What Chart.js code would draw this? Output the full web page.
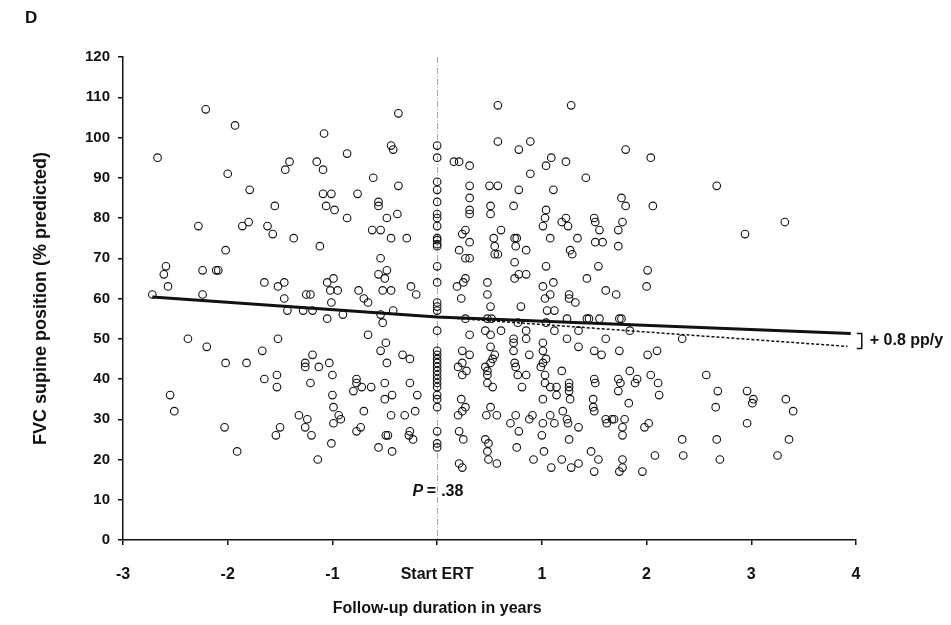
<!DOCTYPE html>
<html>
<head>
<meta charset="utf-8">
<script src="https://cdn.jsdelivr.net/npm/chart.js@4/dist/chart.umd.min.js"></script>
<style>
  html,body{margin:0;padding:0;background:#fff;}
  #wrap{width:951px;height:625px;}
</style>
</head>
<body>
<div id="wrap"><canvas id="fvc" width="951" height="625"></canvas></div>
<script>
// ------------------ DATA ------------------
// follow-up in years relative to start of ERT, FVC supine (% predicted)
const beforeErt = [
  [-2.21,107],[-1.93,103],[-2.67,95],[-2.00,91],[-1.79,87],[-1.55,83],[-2.28,78],[-1.86,78],[-1.80,79],[-1.62,78],[-1.57,76],
  [-0.37,106],[-1.08,101],[-0.44,98],[-0.42,97],[-0.86,96],[-1.41,94],[-1.45,92],[-1.15,94],[-1.09,92],[-0.61,90],[-0.37,88],
  [-1.09,86],[-1.01,86],[-0.76,86],[-1.06,83],[-0.98,82],[-0.56,84],[-0.56,83],[-0.86,80],[-0.48,80],[-0.38,81],[-0.62,77],
  [-0.54,77],[-1.37,75],[-0.44,75],[-0.29,75],
  [-2.02,72],[-2.59,68],[-2.61,66],[-2.24,67],[-2.11,67],[-2.09,67],[-2.57,63],[-1.65,64],[-1.52,63],[-2.72,61],[-2.24,61],
  [-2.38,50],[-2.20,48],[-1.52,50],[-1.67,47],[-2.02,44],[-1.82,44],[-1.65,40],[-1.53,41],[-1.53,38],
  [-1.12,73],[-0.54,70],[-0.56,66],[-0.48,67],[-0.50,65],[-0.99,65],[-1.05,64],[-1.46,64],[-1.25,61],[-1.21,61],[-1.02,62],
  [-0.95,62],[-0.75,62],[-0.52,62],[-0.44,62],[-0.25,63],[-0.20,61],[-1.46,60],[-0.70,60],[-0.66,59],[-1.01,59],[-1.43,57],
  [-1.28,57],[-1.19,57],[-1.05,55],[-0.90,56],[-0.54,56],[-0.52,54],[-0.42,57],[-0.66,51],[-0.49,49],[-0.54,47],[-1.19,46],
  [-1.26,44],[-1.26,43],[-1.13,43],[-1.03,44],[-0.33,46],[-0.26,45],[-0.48,44],[-1.00,41],[-1.21,39],[-0.77,40],[-0.77,39],
  [-0.72,38],[-0.63,38],[-0.50,39],[-0.26,39],
  [-2.55,36],[-2.51,32],[-2.03,28],[-1.91,22],[-1.32,31],[-1.24,30],[-1.26,28],[-1.20,26],[-1.50,28],[-1.54,26],[-1.14,20],
  [-1.01,24],[-1.00,36],[-0.99,33],[-0.94,31],[-0.92,30],[-0.99,29],[-0.80,37],[-0.70,32],[-0.77,27],[-0.73,28],[-0.56,23],
  [-0.50,35],[-0.43,36],[-0.49,26],[-0.47,26],[-0.43,22],[-0.44,31],[-0.31,31],[-0.21,32],[-0.19,36],[-0.26,27],[-0.27,26],
  [-0.23,25]
];
// measurements taken at start of ERT (x = 0)
const atStart = [98,95,89,87,84,81,80,78,75,74.5,73.5,73,68,64,59,58,57,52,47,46,45,44,43,42,41,40,39,38,36,35,33,27,24,23];

const afterErt = [
  [0.58,108],[1.28,108],[0.58,99],[0.89,99],[0.78,97],[0.16,94],[0.21,94],[0.31,93],[1.09,95],[1.04,93],[1.23,94],[0.89,91],
  [1.42,90],[0.31,88],[0.50,88],[0.58,88],[0.78,87],[1.11,87],[0.31,85],[0.51,83],[0.51,81],[0.31,82],[0.31,81],[0.73,83],
  [1.04,82],[1.03,80],[1.01,78],[1.19,79],[1.23,80],[1.25,78],[0.27,77],[0.24,76],[0.61,77],[0.54,75],[0.74,75],[0.76,75],
  [1.08,75],[1.34,75],[0.31,74],
  [1.80,97],[2.04,95],[2.67,88],[1.76,85],[1.80,83],[2.06,83],[1.50,80],[1.51,79],[1.77,79],[1.55,77],[1.73,77],[1.51,74],
  [1.58,74],[3.32,79],[2.94,76],
  [0.21,72],[0.27,70],[0.31,70],[0.55,73],[0.55,71],[0.58,71],[0.75,73],[0.74,69],[0.85,72],[1.27,72],[1.29,71],[1.04,68],
  [1.43,65],[0.78,66],[0.74,65],[0.85,66],[0.27,65],[0.25,64],[0.19,63],[0.48,64],[0.48,61],[0.23,60],[0.51,58],[0.80,58],
  [1.01,63],[1.11,64],[1.08,61],[1.03,60],[1.26,61],[1.26,60],[1.32,59],[1.05,57],[1.12,57],[0.27,55],[0.48,55],[0.52,55],
  [0.77,54],[1.04,54],[1.24,55],[1.43,55],[0.46,52],[0.51,51],[0.61,52],[0.85,52],[0.85,50],[1.12,52],[1.35,52],[0.31,51],
  [1.24,50],[0.73,50],[0.73,49],[0.73,47],[1.01,49],[1.01,47],[1.35,48],[0.51,48],[0.24,47],[0.31,46],[0.55,46],[0.53,45],
  [0.88,46],[1.04,45],[1.01,44],[0.20,43],[0.24,44],[0.28,42],[0.24,41],[0.46,43],[0.51,44],[0.48,42],[0.48,41],[0.74,44],
  [0.75,43],[0.77,41],[0.85,41],[0.99,43],[1.03,41],[1.19,42],[0.48,39],[0.53,38],[0.81,38],[1.03,39],[1.08,38],[1.14,38],
  [1.26,39],[1.26,38],
  [1.73,73],[1.54,68],[2.01,67],[2.00,63],[1.61,62],[1.71,61],[1.45,55],[1.55,55],[1.74,55],[1.76,55],[1.84,52],[1.61,50],
  [2.34,50],[1.50,47],[1.57,46],[1.74,47],[2.01,46],[2.10,47],[1.84,42],[1.50,40],[1.51,39],[1.73,40],[1.75,39],[1.91,40],
  [1.89,39],[2.04,41],[2.11,39],[2.57,41],[2.68,37],
  [0.23,35],[0.27,33],[0.20,31],[0.24,32],[0.21,27],[0.25,25],[0.21,19],[0.24,18],[0.51,33],[0.47,31],[0.57,31],[0.46,25],
  [0.49,24],[0.48,22],[0.49,20],[0.57,19],[0.75,31],[0.70,29],[0.78,27],[0.76,23],[0.92,20],[1.14,36],[1.01,35],[0.91,31],
  [0.88,30],[1.01,29],[1.08,31],[1.12,29],[1.00,26],[1.02,22],[1.20,32],[1.24,30],[1.25,29],[1.35,28],[1.26,37],[1.27,35],
  [1.26,25],[1.19,20],[1.09,18],[1.28,18],[1.35,19],[1.47,22],[1.54,20],[1.50,17],[1.49,35],[1.49,33],[1.50,32],[1.61,30],
  [1.62,29],[1.67,30],[1.69,30],[1.73,37],[1.83,34],[1.77,28],[1.77,26],[1.79,30],[1.77,20],[1.77,18],[1.74,17],[1.96,17],
  [2.12,36],[1.98,28],[2.02,29],[2.08,21],[2.34,25],[2.35,21],[2.66,33],[2.67,25],[2.70,20],[2.96,37],[3.02,35],[3.01,34],
  [2.96,29],[3.33,35],[3.40,32],[3.36,25],[3.25,21]
];

// fitted trend: solid = piecewise fit, dotted = pre-ERT slope continued
const fitX = [-2.72, 0, 3.95];
const fitY = [60.4, 55.4, 51.3];
const extrapX = [0, 3.92];
const extrapY = [55.4, 48.1];

const xTicks = [-3,-2,-1,0,1,2,3,4];
const xTickLabels = ["-3","-2","-1","Start ERT","1","2","3","4"];
const xTitle = "Follow-up duration in years";
const slopeLabel = "+ 0.8 pp/y";
const pLabel = ".38";

// ------------------ BUILD ------------------
const pts = beforeErt.map(p=>({x:p[0],y:p[1]}))
  .concat(atStart.map(v=>({x:0,y:v})))
  .concat(afterErt.map(p=>({x:p[0],y:p[1]})));
const fitLine = fitX.map((v,i)=>({x:v,y:fitY[i]}));
const extrapLine = extrapX.map((v,i)=>({x:v,y:extrapY[i]}));

const FONT = "'Liberation Sans', Arial, sans-serif";
const INK = "#111";

// vertical start line, bracket, P value, x title (centred on start) and panel letter
const extras = {
  id:"extras",
  beforeDatasetsDraw(chart){
    const {ctx, chartArea:a, scales:{x}} = chart;
    const px = Math.round(x.getPixelForValue(0))+0.5;
    ctx.save();
    ctx.strokeStyle = "#a8a8a8"; ctx.lineWidth = 1; ctx.setLineDash([6,2,1,2]);
    ctx.beginPath(); ctx.moveTo(px,a.top); ctx.lineTo(px,a.bottom); ctx.stroke();
    ctx.restore();
  },
  afterDraw(chart){
    const {ctx, scales:{x,y}} = chart;
    ctx.save();
    ctx.fillStyle = INK; ctx.strokeStyle = INK;
    // bracket between the two line ends
    const bx = x.getPixelForValue(fitX[2]) + 11;
    const y1 = y.getPixelForValue(fitY[2]), y2 = y.getPixelForValue(extrapY[1]) + 2;
    ctx.lineWidth = 1.5;
    ctx.beginPath(); ctx.moveTo(bx-5,y1); ctx.lineTo(bx,y1); ctx.lineTo(bx,y2); ctx.lineTo(bx-5,y2); ctx.stroke();
    ctx.font = "bold 16px "+FONT; ctx.textBaseline = "middle"; ctx.textAlign = "left";
    ctx.fillText(slopeLabel, bx+8, (y1+y2)/2);
    // P value under the start line
    const px = x.getPixelForValue(0), py = y.getPixelForValue(12);
    ctx.font = "italic bold 16px "+FONT; ctx.textAlign = "right";
    ctx.fillText("P", px-14, py);
    ctx.font = "bold 16px "+FONT;
    ctx.fillText("=", px-1, py);
    ctx.textAlign = "left";
    ctx.fillText(pLabel, px+4, py);
    // x axis title, centred under Start ERT
    ctx.textAlign = "center";
    ctx.fillText(xTitle, px, 609);
    // panel letter
    ctx.font = "bold 17px "+FONT; ctx.textAlign = "left";
    ctx.fillText("D", 25, 18);
    ctx.restore();
  }
};

// ------------------ CHART ------------------
new Chart(document.getElementById("fvc"), {
  type:"scatter",
  data:{ datasets:[
    { data:fitLine, showLine:true, borderColor:INK, borderWidth:3, pointRadius:0, order:0 },
    { data:extrapLine, showLine:true, borderColor:INK, borderWidth:1.5, borderDash:[3,2], pointRadius:0, order:0 },
    { data:pts, pointStyle:"circle", pointRadius:3.8, pointBorderWidth:1.1,
      pointBorderColor:INK, pointBackgroundColor:"rgba(255,255,255,0)", order:1 }
  ]},
  options:{
    responsive:false, animation:false,
    layout:{ padding:{ left:0, right:95, top:57, bottom:0 } },
    plugins:{ legend:{display:false}, tooltip:{enabled:false} },
    scales:{
      x:{
        type:"linear", min:-3, max:4,
        afterBuildTicks(s){ s.ticks = xTicks.map(v=>({value:v})); },
        afterFit(s){ s.height = 85; },
        border:{ color:INK, width:1.5 },
        grid:{ drawOnChartArea:false, drawTicks:true, tickLength:5, color:INK, lineWidth:1.5 },
        ticks:{ padding:20, color:INK, font:{family:FONT, size:16, weight:"bold"},
          callback:(v)=>xTickLabels[xTicks.indexOf(v)] },
        title:{ display:false }
      },
      y:{
        type:"linear", min:0, max:120,
        afterFit(s){ s.width = 123; },
        border:{ color:INK, width:1.5 },
        grid:{ drawOnChartArea:false, drawTicks:true, tickLength:5, color:INK, lineWidth:1.5 },
        ticks:{ stepSize:10, padding:8, color:INK, font:{family:FONT, size:15, weight:"bold"} },
        title:{ display:true, text:"FVC supine position (% predicted)", color:INK,
          font:{family:FONT, size:18, weight:"bold"}, padding:{top:30,bottom:0} }
      }
    }
  },
  plugins:[extras]
});
</script>
</body>
</html>
